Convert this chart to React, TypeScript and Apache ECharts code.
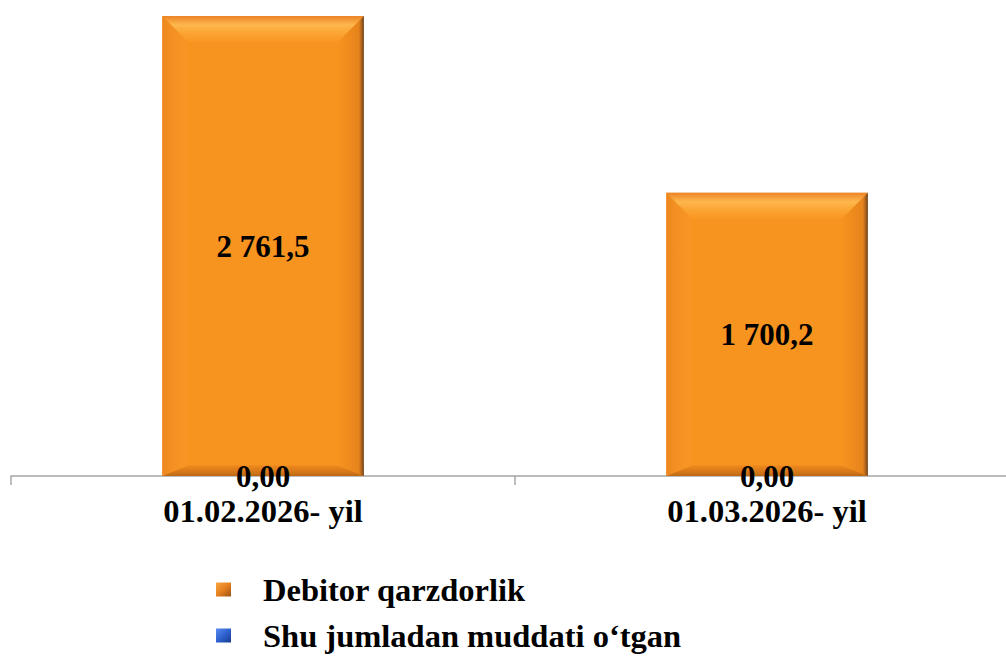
import React, { useEffect, useRef } from "react";
import * as echarts from "echarts";

const categories = ["01.02.2026- yil", "01.03.2026- yil"];
const debitorValues = [2761.5, 1700.2];
const overdueValues = [0, 0];
const seriesNames = ["Debitor qarzdorlik", "Shu jumladan muddati o\u2018tgan"];

const FONT = "Liberation Serif";

function fmt(v: number, d: number): string {
  const s = v.toFixed(d);
  const [i, f] = s.split(".");
  const ii = i.replace(/\B(?=(\d{3})+(?!\d))/g, " ");
  return f ? ii + "," + f : ii;
}

export default function App() {
  const ref = useRef<HTMLDivElement>(null);
  useEffect(() => {
    if (!ref.current) return;
    const chart = echarts.init(ref.current, null, { renderer: "svg" });
    const LG = echarts.graphic.LinearGradient;
    const option: any = {
      animation: false,
      backgroundColor: "#ffffff",
      grid: { left: 11, width: 1008, top: 9.6, height: 466.4, outerBoundsMode: "none", containLabel: false },
      xAxis: {
        type: "category",
        data: categories,
        axisLine: { show: true, lineStyle: { color: "#A6A6A6", width: 1.5 } },
        axisTick: { show: true, length: 9, lineStyle: { color: "#A6A6A6", width: 1.5 } },
        axisLabel: {
          color: "#000",
          fontSize: 32.5,
          fontWeight: "bold",
          fontFamily: FONT,
          margin: 18,
          lineHeight: 33,
        },
      },
      yAxis: {
        type: "value",
        min: 0,
        max: 2800,
        show: false,
        splitLine: { show: false },
      },
      legend: {
        orient: "vertical",
        left: 216,
        top: 573,
        height: 90,
        padding: 0,
        itemWidth: 15,
        itemHeight: 14,
        itemGap: 13,
        icon: "rect",
        textStyle: {
          color: "#000",
          fontSize: 32.5,
          fontWeight: "bold",
          fontFamily: FONT,
          lineHeight: 33,
          padding: [0, 0, 0, 27],
        },
        data: [
          {
            name: seriesNames[0],
            itemStyle: {
              color: new LG(0, 0, 1, 1, [
                { offset: 0, color: "#F9A544" },
                { offset: 0.5, color: "#E5801E" },
                { offset: 1, color: "#9A5216" },
              ]),
            },
          },
          {
            name: seriesNames[1],
            itemStyle: {
              color: new LG(0, 0, 1, 1, [
                { offset: 0, color: "#5A8CF0" },
                { offset: 0.5, color: "#2E62D0" },
                { offset: 1, color: "#1A3A90" },
              ]),
            },
          },
        ],
      },
      series: [
        {
          name: seriesNames[0],
          type: "bar",
          data: debitorValues,
          barWidth: "40%",
          barGap: "-100%",
          itemStyle: { color: "#F7931F" },
          label: {
            show: true,
            position: "inside",
            color: "#000",
            fontSize: 31,
            fontWeight: "bold",
            fontFamily: FONT,
            formatter: (p: any) => fmt(p.value, 1),
          },
          z: 2,
        },
        {
          name: seriesNames[1],
          type: "bar",
          data: overdueValues,
          barWidth: "40%",
          barGap: "-100%",
          itemStyle: { color: "#2E62D0" },
          label: {
            show: true,
            position: "inside",
            color: "#000",
            fontSize: 31,
            fontWeight: "bold",
            fontFamily: FONT,
            formatter: (p: any) => fmt(p.value, 2),
          },
          z: 4,
        },
        {
          type: "custom",
          silent: true,
          z: 3,
          data: debitorValues.map((v, i) => [i, v]),
          encode: { x: 0, y: 1 },
          renderItem: (params: any, api: any) => {
            const idx = api.value(0);
            const val = api.value(1);
            const top = api.coord([idx, val]);
            const base = api.coord([idx, 0]);
            const bw = api.size([1, 0])[0] * 0.4;
            const x0 = top[0] - bw / 2;
            const x1 = top[0] + bw / 2;
            const y0 = top[1];
            const y1 = base[1];
            const b = 26;
            return {
              type: "group",
              children: [
                {
                  type: "polygon",
                  shape: { points: [[x0, y0], [x1, y0], [x1 - b, y0 + b], [x0 + b, y0 + b]] },
                  style: {
                    fill: new LG(0, 0, 0, 1, [
                      { offset: 0, color: "rgba(235,130,40,0.9)" },
                      { offset: 0.35, color: "rgba(255,190,85,0.85)" },
                      { offset: 1, color: "rgba(255,165,50,0.25)" },
                    ]),
                  },
                },
                {
                  type: "polygon",
                  shape: { points: [[x0, y0], [x0 + b, y0 + b], [x0 + b, y1 - b * 0.4], [x0, y1]] },
                  style: {
                    fill: new LG(0, 0, 1, 0, [
                      { offset: 0, color: "rgba(230,125,30,0.55)" },
                      { offset: 1, color: "rgba(250,160,60,0.15)" },
                    ]),
                  },
                },
                {
                  type: "polygon",
                  shape: { points: [[x1, y0], [x1, y1], [x1 - b, y1 - b * 0.4], [x1 - b, y0 + b]] },
                  style: {
                    fill: new LG(0, 0, 1, 0, [
                      { offset: 0, color: "rgba(200,100,20,0)" },
                      { offset: 0.8, color: "rgba(190,95,20,0.3)" },
                      { offset: 0.93, color: "rgba(120,70,30,0.7)" },
                      { offset: 1, color: "rgba(80,55,35,0.9)" },
                    ]),
                  },
                },
                {
                  type: "polygon",
                  shape: { points: [[x0, y1], [x1, y1], [x1 - b, y1 - b * 0.4], [x0 + b, y1 - b * 0.4]] },
                  style: {
                    fill: new LG(0, 0, 0, 1, [
                      { offset: 0, color: "rgba(210,110,25,0.3)" },
                      { offset: 1, color: "rgba(150,75,15,0.6)" },
                    ]),
                  },
                },
              ],
            };
          },
        },
      ],
    };
    chart.setOption(option);
    return () => chart.dispose();
  }, []);
  return <div ref={ref} style={{ width: 1006, height: 657, position: "absolute", left: 0, top: 0 }} />;
}
